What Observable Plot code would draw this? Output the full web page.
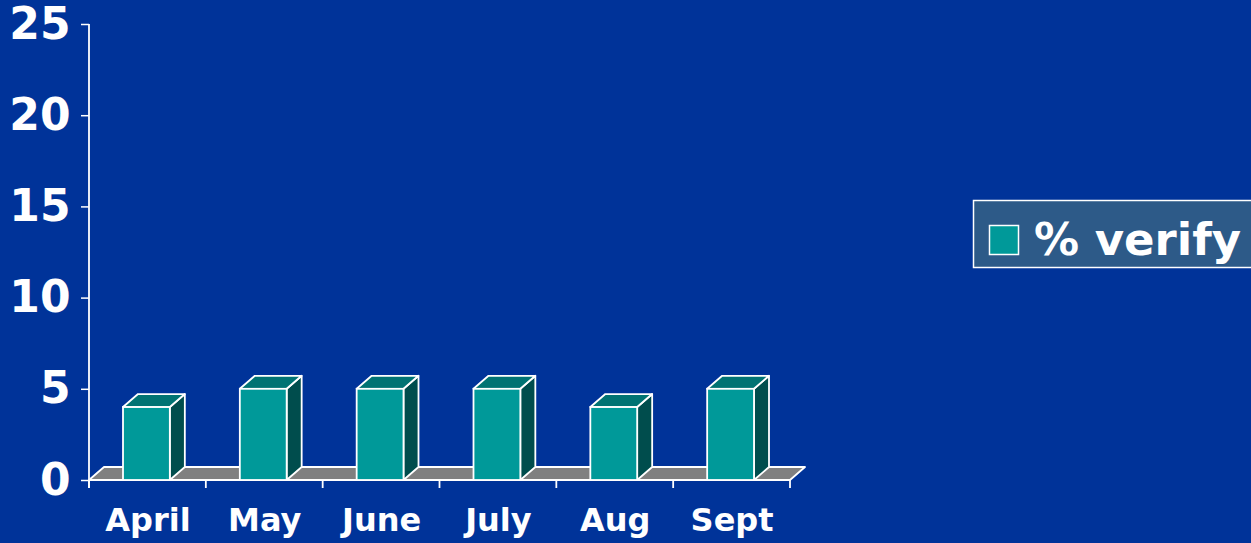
<!DOCTYPE html>
<html>
<head>
<meta charset="utf-8">
<script src="https://cdn.jsdelivr.net/npm/d3@7"></script>
<script src="https://cdn.jsdelivr.net/npm/@observablehq/plot@0.6"></script>
<style>
  html, body { margin: 0; padding: 0; background: #003399; overflow: hidden; }
  #chart { position: relative; width: 1251px; height: 543px; }
</style>
</head>
<body>
<div id="chart"></div>
<script>
const months = ["April", "May", "June", "July", "Aug", "Sept"];
const verify = [4, 5, 5, 5, 4, 5];
const yTicks = [0, 5, 10, 15, 20, 25];
const seriesName = "% verify";

const data = months.map((m, i) => ({month: m, value: verify[i]}));

const FONT = "'DejaVu Sans', Verdana, sans-serif";
const DX = 15, DY = 13;
const FRONT = "#009999", TOP = "#007373", SIDE = "#004d4d", FLOOR = "#808080";
const SW = 1.8;

function depth3d(index, scales, values, dimensions) {
  const {x, y} = scales;
  const g = d3.create("svg:g");
  const bw = x.bandwidth();
  const y0 = y(0);
  const left = x(months[0]);
  const right = x(months[months.length - 1]) + bw;
  // floor
  g.append("path")
    .attr("d", `M${left},${y0}L${left + DX},${y0 - DY}L${right + DX},${y0 - DY}L${right},${y0}Z`)
    .attr("fill", FLOOR).attr("stroke", "white").attr("stroke-width", SW).attr("stroke-linejoin", "round");
  // x ticks at band edges
  const edges = months.map(m => x(m)).concat([right]);
  edges.forEach(e => {
    g.append("line").attr("x1", e).attr("x2", e).attr("y1", y0).attr("y2", y0 + 8)
      .attr("stroke", "white").attr("stroke-width", SW);
  });
  // y axis line
  g.append("line").attr("x1", left).attr("x2", left).attr("y1", y(25)).attr("y2", y0 + 8)
    .attr("stroke", "white").attr("stroke-width", SW);
  // x axis baseline
  g.append("line").attr("x1", left).attr("x2", right).attr("y1", y0).attr("y2", y0)
    .attr("stroke", "white").attr("stroke-width", SW);
  // bars
  const insL = 34, insR = 36;
  data.forEach(d => {
    const x0 = x(d.month) + insL;
    const x1 = x(d.month) + bw - insR;
    const yv = y(d.value);
    g.append("path")
      .attr("d", `M${x1},${yv}L${x1 + DX},${yv - DY}L${x1 + DX},${y0 - DY}L${x1},${y0}Z`)
      .attr("fill", SIDE).attr("stroke", "white").attr("stroke-width", SW).attr("stroke-linejoin", "round");
    g.append("path")
      .attr("d", `M${x0},${yv}L${x0 + DX},${yv - DY}L${x1 + DX},${yv - DY}L${x1},${yv}Z`)
      .attr("fill", TOP).attr("stroke", "white").attr("stroke-width", SW).attr("stroke-linejoin", "round");
    g.append("rect")
      .attr("x", x0).attr("y", yv).attr("width", x1 - x0).attr("height", y0 - yv)
      .attr("fill", FRONT).attr("stroke", "white").attr("stroke-width", SW);
  });
  // legend
  const lg = g.append("g");
  lg.append("rect").attr("x", 973.5).attr("y", 200.5).attr("width", 290).attr("height", 67)
    .attr("fill", "#2d5a88").attr("stroke", "white").attr("stroke-width", 1.5);
  lg.append("rect").attr("x", 989.5).attr("y", 225.5).attr("width", 29).attr("height", 29)
    .attr("fill", FRONT).attr("stroke", "white").attr("stroke-width", 1.5);
  lg.append("text").attr("x", 1034).attr("y", 255).attr("text-anchor", "start")
    .attr("fill", "white").attr("font-family", FONT).attr("font-weight", "bold")
    .attr("font-size", 45).text(seriesName);
  return g.node();
}

const plot = Plot.plot({
  width: 1251,
  height: 543,
  marginLeft: 89,
  marginRight: 461,
  marginTop: 24,
  marginBottom: 63,
  style: {background: "#003399", color: "white", fontFamily: FONT, overflow: "visible"},
  x: {type: "band", domain: months, padding: 0, round: false},
  y: {domain: [0, 25]},
  marks: [
    depth3d,
    Plot.axisY({ticks: yTicks, tickSize: 8, tickPadding: 11, fontSize: 44, fontWeight: "bold", label: null, stroke: "white", strokeWidth: 1.5}),
    Plot.axisX({tickSize: 0, tickPadding: 28, fontSize: 32, fontWeight: "bold", label: null})
  ]
});
document.getElementById("chart").appendChild(plot);
</script>
</body>
</html>
